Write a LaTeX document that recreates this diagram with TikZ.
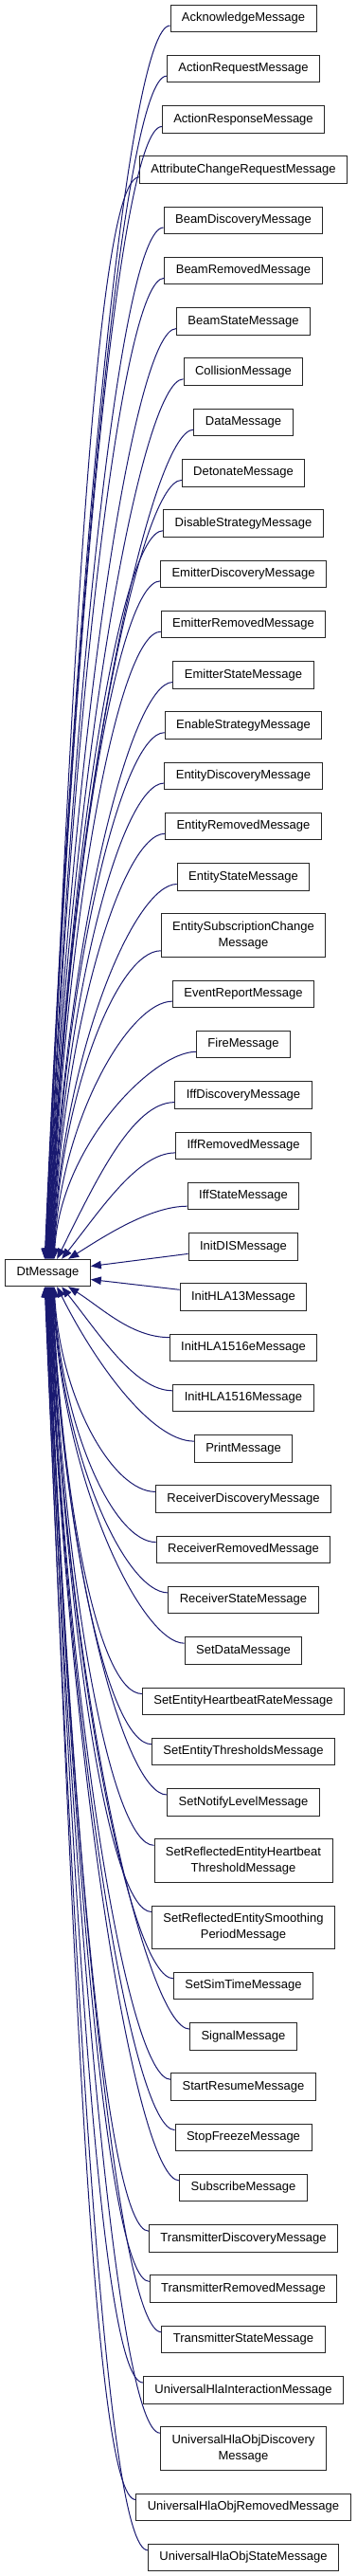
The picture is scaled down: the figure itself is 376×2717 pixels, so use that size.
\documentclass[tikz,border=0pt]{standalone}
\usepackage{fontspec}
\setmainfont{Liberation Sans}
\usetikzlibrary{arrows.meta,calc}
\definecolor{midnight}{RGB}{25,25,112}
\tikzset{
  cls/.style={draw=black!85, line width=0.9pt, fill=white, inner xsep=12pt, inner ysep=2pt,
    minimum height=28.5pt, align=center, font=\fontsize{13}{17}\selectfont},
  cls2/.style={cls, minimum height=45.5pt},
  inh/.style={draw=midnight, line width=1pt, -{Triangle[length=11pt,width=8.5pt]}}
}
\begin{document}
\begin{tikzpicture}[x=1pt,y=1pt]
    \useasboundingbox (0,0) rectangle (376,-2717);
    \node[cls] (dt) at (50.5,-1342.5) {DtMessage};
    % derived classes, top to bottom
    \node[cls] (ack) at (257,-19.3) {AcknowledgeMessage};
    \node[cls] (actreq) at (257,-72.5) {ActionRequestMessage};
    \node[cls] (actresp) at (257,-125.8) {ActionResponseMessage};
    \node[cls] (attrchg) at (257,-179.1) {AttributeChangeRequestMessage};
    \node[cls] (beamdisc) at (257,-232.3) {BeamDiscoveryMessage};
    \node[cls] (beamrem) at (257,-285.6) {BeamRemovedMessage};
    \node[cls] (beamst) at (257,-338.9) {BeamStateMessage};
    \node[cls] (coll) at (257,-392.1) {CollisionMessage};
    \node[cls] (data) at (257,-445.4) {DataMessage};
    \node[cls] (deton) at (257,-498.7) {DetonateMessage};
    \node[cls] (disstrat) at (257,-552.0) {DisableStrategyMessage};
    \node[cls] (emitdisc) at (257,-605.2) {EmitterDiscoveryMessage};
    \node[cls] (emitrem) at (257,-658.5) {EmitterRemovedMessage};
    \node[cls] (emitst) at (257,-711.8) {EmitterStateMessage};
    \node[cls] (enstrat) at (257,-765.0) {EnableStrategyMessage};
    \node[cls] (entdisc) at (257,-818.3) {EntityDiscoveryMessage};
    \node[cls] (entrem) at (257,-871.6) {EntityRemovedMessage};
    \node[cls] (entst) at (257,-924.8) {EntityStateMessage};
    \node[cls2] (entsub) at (257,-986.6) {EntitySubscriptionChange\\Message};
    \node[cls] (evrep) at (257,-1048.4) {EventReportMessage};
    \node[cls] (fire) at (257,-1101.6) {FireMessage};
    \node[cls] (iffdisc) at (257,-1154.9) {IffDiscoveryMessage};
    \node[cls] (iffrem) at (257,-1208.2) {IffRemovedMessage};
    \node[cls] (iffst) at (257,-1261.5) {IffStateMessage};
    \node[cls] (initdis) at (257,-1314.7) {InitDISMessage};
    \node[cls] (inithla13) at (257,-1368.0) {InitHLA13Message};
    \node[cls] (inithla1516e) at (257,-1421.3) {InitHLA1516eMessage};
    \node[cls] (inithla1516) at (257,-1474.5) {InitHLA1516Message};
    \node[cls] (print) at (257,-1527.8) {PrintMessage};
    \node[cls] (recvdisc) at (257,-1581.1) {ReceiverDiscoveryMessage};
    \node[cls] (recvrem) at (257,-1634.3) {ReceiverRemovedMessage};
    \node[cls] (recvst) at (257,-1687.6) {ReceiverStateMessage};
    \node[cls] (setdata) at (257,-1740.9) {SetDataMessage};
    \node[cls] (setheart) at (257,-1794.2) {SetEntityHeartbeatRateMessage};
    \node[cls] (setthresh) at (257,-1847.4) {SetEntityThresholdsMessage};
    \node[cls] (setnotify) at (257,-1900.7) {SetNotifyLevelMessage};
    \node[cls2] (setrefheart) at (257,-1962.5) {SetReflectedEntityHeartbeat\\ThresholdMessage};
    \node[cls2] (setrefsmooth) at (257,-2032.7) {SetReflectedEntitySmoothing\\PeriodMessage};
    \node[cls] (setsim) at (257,-2094.5) {SetSimTimeMessage};
    \node[cls] (signal) at (257,-2147.8) {SignalMessage};
    \node[cls] (startres) at (257,-2201.0) {StartResumeMessage};
    \node[cls] (stopfrz) at (257,-2254.3) {StopFreezeMessage};
    \node[cls] (subscr) at (257,-2307.6) {SubscribeMessage};
    \node[cls] (xmitdisc) at (257,-2360.9) {TransmitterDiscoveryMessage};
    \node[cls] (xmitrem) at (257,-2414.1) {TransmitterRemovedMessage};
    \node[cls] (xmitst) at (257,-2467.4) {TransmitterStateMessage};
    \node[cls] (uhlainter) at (257,-2520.7) {UniversalHlaInteractionMessage};
    \node[cls2] (uhlaobjdisc) at (257,-2582.4) {UniversalHlaObjDiscovery\\Message};
    \node[cls] (uhlaobjrem) at (257,-2644.2) {UniversalHlaObjRemovedMessage};
    \node[cls] (uhlaobjst) at (257,-2697.5) {UniversalHlaObjStateMessage};
    % far edges from above
    \foreach \c/\tx in {ack/42,actreq/42.5,actresp/43,attrchg/43.5,beamdisc/44,beamrem/44.5,
        beamst/45,coll/45.5,data/46,deton/46.5,disstrat/47,emitdisc/47.5,emitrem/48,emitst/48.5,
        enstrat/49,entdisc/49.5,entrem/50,entst/50.5,entsub/51,evrep/51.5,fire/52}
      \draw[inh] let \p1=([yshift=7pt]\c.south west), \p2=(dt.north),
          \n1={0.55*(\y1-\y2)}, \n2={2+0.04*\n1} in
        (\p1) .. controls +(-45,0) and +(\n2,\n1) .. ([xshift=\tx]dt.north west);
    % far edges from below
    \foreach \c/\tx in {recvdisc/52,recvrem/51.5,recvst/51,setdata/50.5,setheart/50,setthresh/49.5,
        setnotify/49,setrefheart/48.5,setrefsmooth/48,setsim/47.5,signal/47,startres/46.5,
        stopfrz/46,subscr/45.5,xmitdisc/45,xmitrem/44.5,xmitst/44,uhlainter/43.5,
        uhlaobjdisc/43,uhlaobjrem/42.5,uhlaobjst/42}
      \draw[inh] let \p1=([yshift=-7pt]\c.north west), \p2=(dt.south),
          \n1={0.55*(\y2-\y1)}, \n2={2+0.04*\n1} in
        (\p1) .. controls +(-45,0) and +(\n2,-\n1) .. ([xshift=\tx]dt.south west);
    % near edges
    \draw[inh] ([yshift=7pt]iffdisc.south west) .. controls +(-45,0) and +(40,80) .. ([xshift=55]dt.north west);
    \draw[inh] ([yshift=7pt]iffrem.south west) .. controls +(-40,0) and +(40,50) .. ([xshift=60]dt.north west);
    \draw[inh] ([yshift=4pt]iffst.south west) .. controls +(-40,0) and +(35,22) .. ([xshift=67]dt.north west);
    \draw[inh] ([yshift=7pt]initdis.south west) -- ([yshift=7pt]dt.east);
    \draw[inh] ([yshift=-7pt]inithla13.north west) -- ([yshift=-7pt]dt.east);
    \draw[inh] ([yshift=-4pt]inithla1516e.north west) .. controls +(-40,0) and +(35,-22) .. ([xshift=67]dt.south west);
    \draw[inh] ([yshift=-7pt]inithla1516.north west) .. controls +(-40,0) and +(40,-50) .. ([xshift=60]dt.south west);
    \draw[inh] ([yshift=-7pt]print.north west) .. controls +(-45,0) and +(40,-80) .. ([xshift=55]dt.south west);
\end{tikzpicture}
\end{document}
